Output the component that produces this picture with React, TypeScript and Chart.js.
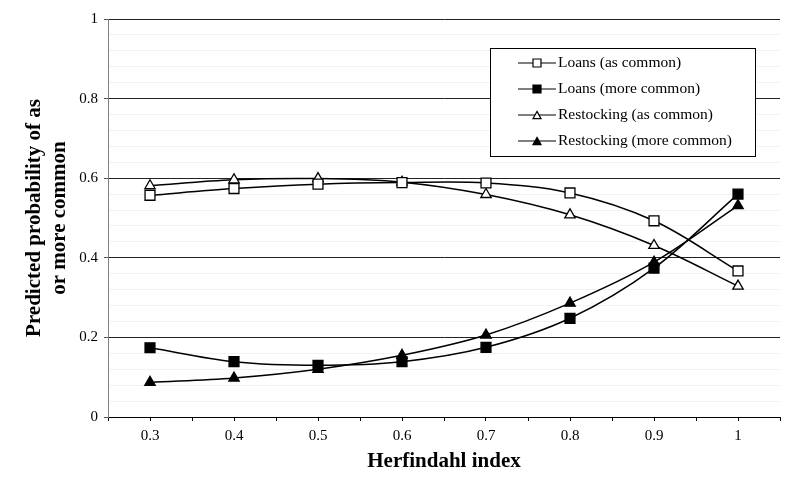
import React, { useEffect, useRef } from 'react';
import { Chart, registerables } from 'chart.js';

Chart.register(...registerables);

const FONT = "'Liberation Serif', 'Times New Roman', serif";

const herfindahl = [0.3, 0.4, 0.5, 0.6, 0.7, 0.8, 0.9, 1.0];
const xTickLabels = ['0.3', '0.4', '0.5', '0.6', '0.7', '0.8', '0.9', '1'];
const loansAsCommon = [0.557, 0.574, 0.585, 0.589, 0.588, 0.563, 0.493, 0.367];
const loansMoreCommon = [0.174, 0.139, 0.130, 0.139, 0.175, 0.248, 0.374, 0.560];
const restockingAsCommon = [0.581, 0.596, 0.599, 0.590, 0.559, 0.508, 0.431, 0.329];
const restockingMoreCommon = [0.087, 0.098, 0.120, 0.155, 0.206, 0.286, 0.389, 0.531];
const seriesLabels = [
  'Loans (as common)',
  'Loans (more common)',
  'Restocking (as common)',
  'Restocking (more common)',
];
const yMajorTicks = [0, 0.2, 0.4, 0.6, 0.8, 1];
const yTickLabels = ['0', '0.2', '0.4', '0.6', '0.8', '1'];

const isMajorY = (v: number) => yMajorTicks.some((m) => Math.abs(m - v) < 1e-6);

function drawMarker(ctx: CanvasRenderingContext2D, style: string, x: number, y: number, fill: string, size: number) {
  ctx.save();
  ctx.beginPath();
  if (style === 'rect') {
    ctx.rect(x - size / 2, y - size / 2, size, size);
  } else {
    const h = size * 0.9;
    ctx.moveTo(x, y - h / 2);
    ctx.lineTo(x + size / 2, y + h / 2);
    ctx.lineTo(x - size / 2, y + h / 2);
    ctx.closePath();
  }
  ctx.fillStyle = fill;
  ctx.fill();
  ctx.lineWidth = 1.2;
  ctx.strokeStyle = '#000';
  ctx.stroke();
  ctx.restore();
}

const boxLegend = {
  id: 'boxLegend',
  afterDraw(chart: any) {
    const { ctx, chartArea } = chart;
    const x0 = chartArea.right - 290;
    const y0 = chartArea.top + 29;
    const w = 265;
    const h = 108;
    ctx.save();
    ctx.fillStyle = '#fff';
    ctx.fillRect(x0, y0, w, h);
    ctx.strokeStyle = '#000';
    ctx.lineWidth = 1;
    ctx.strokeRect(x0 + 0.5, y0 + 0.5, w, h);
    chart.data.datasets.forEach((ds: any, i: number) => {
      const cy = y0 + 15 + i * 26;
      ctx.beginPath();
      ctx.moveTo(x0 + 28, cy);
      ctx.lineTo(x0 + 66, cy);
      ctx.lineWidth = 1.2;
      ctx.strokeStyle = '#000';
      ctx.stroke();
      drawMarker(ctx, ds.pointStyle, x0 + 47, cy, ds.pointBackgroundColor, 8);
      ctx.fillStyle = '#000';
      ctx.font = `15.5px ${FONT}`;
      ctx.textBaseline = 'middle';
      ctx.textAlign = 'left';
      ctx.fillText(ds.label, x0 + 68, cy);
    });
    ctx.restore();
  },
};

function makeDataset(label: string, values: number[], style: string, filled: boolean) {
  return {
    label,
    data: herfindahl.map((x, i) => ({ x, y: values[i] })),
    borderColor: '#000',
    borderWidth: 1.5,
    tension: 0.35,
    fill: false,
    pointStyle: style,
    pointRadius: style === 'rect' ? 7 : 6,
    pointBorderWidth: 1.3,
    pointBorderColor: '#000',
    pointBackgroundColor: filled ? '#000' : '#fff',
  };
}

export default function App() {
  const canvasRef = useRef<HTMLCanvasElement | null>(null);

  useEffect(() => {
    document.body.style.margin = '0';
    const canvas = canvasRef.current;
    if (!canvas) return;
    const chart = new Chart(canvas, {
      type: 'line',
      data: {
        datasets: [
          makeDataset(seriesLabels[0], loansAsCommon, 'rect', false),
          makeDataset(seriesLabels[1], loansMoreCommon, 'rect', true),
          makeDataset(seriesLabels[2], restockingAsCommon, 'triangle', false),
          makeDataset(seriesLabels[3], restockingMoreCommon, 'triangle', true),
        ] as any,
      },
      options: {
        responsive: false,
        animation: false,
        layout: { padding: { top: 19, right: 20, bottom: 0, left: 0 } },
        plugins: {
          legend: { display: false },
          tooltip: { enabled: false },
        },
        scales: {
          x: {
            type: 'linear',
            min: 0.25,
            max: 1.05,
            afterBuildTicks: (s: any) => {
              const t = [];
              for (let i = 0; i <= 16; i++) t.push({ value: 0.25 + i * 0.05 });
              s.ticks = t;
            },
            afterFit: (s: any) => {
              s.height = 78;
            },
            border: { color: '#000', width: 1 },
            grid: {
              drawOnChartArea: false,
              drawTicks: true,
              tickLength: 4,
              tickColor: '#000',
            },
            ticks: {
              autoSkip: false,
              maxRotation: 0,
              padding: 6,
              color: '#000',
              font: { family: FONT, size: 15 },
              callback: (v: any) => {
                const idx = herfindahl.findIndex((h) => Math.abs(h - Number(v)) < 1e-6);
                return idx >= 0 ? xTickLabels[idx] : '';
              },
            },
            title: {
              display: true,
              text: 'Herfindahl index',
              color: '#000',
              font: { family: FONT, size: 21, weight: 'bold', lineHeight: 1.2 },
              padding: { top: 0, bottom: 21 },
            },
          },
          y: {
            type: 'linear',
            min: 0,
            max: 1,
            afterBuildTicks: (s: any) => {
              const t = [];
              for (let i = 0; i <= 25; i++) t.push({ value: i * 0.04 });
              s.ticks = t;
            },
            afterFit: (s: any) => {
              s.width = 108;
            },
            border: { color: '#808080', width: 1 },
            grid: {
              color: (c: any) => (isMajorY(c.tick.value) ? '#222' : '#f2f2f2'),
              lineWidth: 1,
              tickLength: 4,
              tickColor: (c: any) => (isMajorY(c.tick.value) ? '#555' : 'rgba(0,0,0,0)'),
            },
            ticks: {
              autoSkip: false,
              padding: 6,
              color: '#000',
              font: { family: FONT, size: 15 },
              callback: (v: any) => {
                const idx = yMajorTicks.findIndex((m) => Math.abs(m - Number(v)) < 1e-6);
                return idx >= 0 ? yTickLabels[idx] : '';
              },
            },
            title: {
              display: true,
              text: ['Predicted probability of as', 'or more common'],
              color: '#000',
              font: { family: FONT, size: 21, weight: 'bold', lineHeight: 1.2 },
              padding: { top: 22, bottom: 0 },
            },
          },
        },
      } as any,
      plugins: [boxLegend],
    });
    return () => chart.destroy();
  }, []);

  return (
    <div style={{ width: 800, height: 495, background: '#fff' }}>
      <canvas ref={canvasRef} width={800} height={495} />
    </div>
  );
}
